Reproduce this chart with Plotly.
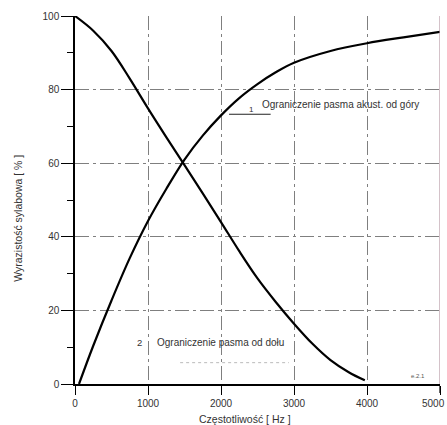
import plotly.graph_objects as go

# Curve 1: Ograniczenie pasma akust. od góry (rising)
freq_upper = [55, 250, 500, 750, 1000, 1250, 1500, 1750, 2000, 2250, 2500, 2750, 3000, 3500, 4000, 4500, 5000]
val_upper = [0, 10.4, 22.7, 34.2, 44.3, 53.0, 61.0, 67.5, 73.0, 77.7, 81.5, 84.7, 87.3, 90.5, 92.6, 94.2, 95.7]

# Curve 2: Ograniczenie pasma od dołu (falling)
freq_lower = [0, 250, 500, 750, 1000, 1250, 1500, 1750, 2000, 2250, 2500, 2750, 3000, 3250, 3500, 3750, 3970]
val_lower = [100, 96.0, 90.5, 83.0, 74.9, 67.1, 59.5, 51.8, 44.0, 36.1, 28.7, 22.3, 16.4, 11.0, 6.5, 3.2, 1.0]

x_ticks = [0, 1000, 2000, 3000, 4000, 5000]
x_tick_labels = ["0", "1000", "2000", "3000", "4000", "5000"]
y_ticks = [0, 20, 40, 60, 80, 100]

FONT = "Liberation Sans, Arial, sans-serif"
TXT = "#333333"

fig = go.Figure()
for xs, ys in ((freq_upper, val_upper), (freq_lower, val_lower)):
    fig.add_trace(go.Scatter(x=xs, y=ys, mode="lines",
                             line=dict(color="black", width=2.2, shape="spline", smoothing=1.0),
                             showlegend=False, hoverinfo="skip"))

grid_dash = "14px,4px,3px,4px"

# last label drawn separately so it stays inside the page
axis_text = x_tick_labels[:-1] + [""]

fig.update_xaxes(range=[0, 5000], tickvals=x_ticks, ticktext=axis_text,
                 showgrid=True, gridcolor="#7f7f7f", gridwidth=1, griddash=grid_dash,
                 zeroline=False, showline=True, linecolor="black", linewidth=1.5,
                 ticks="outside", ticklen=9, tickwidth=1.2, tickcolor="black",
                 ticklabeloverflow="allow", automargin=False,
                 tickfont=dict(family=FONT, size=10, color=TXT))
fig.update_yaxes(range=[0, 100], tickvals=y_ticks, ticktext=[str(v) for v in y_ticks],
                 showgrid=True, gridcolor="#7f7f7f", gridwidth=1, griddash=grid_dash,
                 zeroline=False, showline=True, linecolor="black", linewidth=1.5,
                 ticks="outside", ticklen=12, tickwidth=1.2, tickcolor="black",
                 automargin=False,
                 minor=dict(dtick=10, ticks="outside", ticklen=6, tickwidth=1.2, tickcolor="black",
                            showgrid=False),
                 tickfont=dict(family=FONT, size=10, color=TXT))

ann = []
ann.append(dict(xref="paper", yref="paper", x=-0.155, y=0.45, text="Wyrazistość sylabowa [ % ]",
                textangle=-90, showarrow=False, font=dict(family=FONT, size=10.5, color=TXT),
                xanchor="center", yanchor="middle"))
ann.append(dict(xref="x", yref="paper", x=2330, y=-0.095, text="Częstotliwość [ Hz ]",
                showarrow=False, font=dict(family=FONT, size=10.5, color=TXT),
                xanchor="center", yanchor="middle"))
ann.append(dict(xref="paper", yref="paper", x=1 + 6.5 / 365, y=-0.0535, text=x_tick_labels[-1],
                showarrow=False, font=dict(family=FONT, size=10, color=TXT),
                xanchor="right", yanchor="middle"))
ann.append(dict(xref="x", yref="y", x=2420, y=74.6, text="1", showarrow=False,
                font=dict(family=FONT, size=8, color=TXT), xanchor="center", yanchor="middle"))
ann.append(dict(xref="x", yref="y", x=2530, y=76.0, text="Ograniczenie pasma akust. od góry",
                showarrow=False, font=dict(family=FONT, size=10, color=TXT),
                xanchor="left", yanchor="middle"))
ann.append(dict(xref="x", yref="y", x=890, y=11.3, text="2", showarrow=False,
                font=dict(family=FONT, size=9.5, color=TXT), xanchor="center", yanchor="middle"))
ann.append(dict(xref="x", yref="y", x=1090, y=11.3, text="Ograniczenie pasma od dołu",
                showarrow=False, font=dict(family=FONT, size=10, color=TXT),
                xanchor="left", yanchor="middle"))
ann.append(dict(xref="x", yref="y", x=4700, y=2.3, text="e.2.1", showarrow=False,
                font=dict(family=FONT, size=6, color="#555555"), xanchor="center", yanchor="middle"))

shapes = [
    dict(type="line", xref="x", yref="y", x0=2110, x1=2680, y0=73.3, y1=73.3,
         line=dict(color="#222222", width=1.2)),
    dict(type="line", xref="x", yref="y", x0=1440, x1=2930, y0=5.8, y1=5.8,
         line=dict(color="#bbbbbb", width=1, dash="dot")),
    dict(type="line", xref="x", yref="y", x0=5000, x1=5000, y0=0, y1=100,
         line=dict(color="#b89aa6", width=1.2)),
    dict(type="line", xref="x", yref="paper", x0=5000, x1=5000, y0=0, y1=-9 / 368,
         line=dict(color="black", width=1.2)),
]

fig.update_layout(width=447, height=425, margin=dict(l=75, r=7, t=16, b=41),
                  paper_bgcolor="white", plot_bgcolor="white",
                  annotations=ann, shapes=shapes, showlegend=False)

fig.write_html("out.html")
